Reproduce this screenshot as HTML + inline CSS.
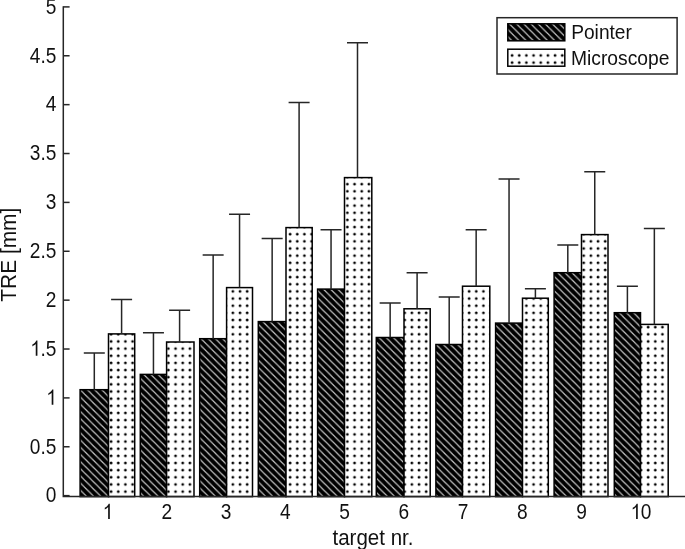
<!DOCTYPE html><html><head><meta charset="utf-8"><style>
html,body{margin:0;padding:0;background:#fff;width:685px;height:549px;overflow:hidden}
svg{display:block}text{font-family:"Liberation Sans",sans-serif;fill:#111}svg{will-change:transform}
</style></head><body>
<svg width="685" height="549" viewBox="0 0 685 549">
<defs>
<pattern id="dots" patternUnits="userSpaceOnUse" x="0" y="0" width="7.1605" height="7.15"><rect width="7.1605" height="7.15" fill="#fff"/><circle cx="3.7" cy="5.35" r="1.4" fill="#000"/></pattern>
<pattern id="hatch" patternUnits="userSpaceOnUse" x="0" y="0" width="7.1627" height="7.1627"><rect width="7.1627" height="7.1627" fill="#000"/><path d="M-2.0000 -7.6127 L9.1627 3.5500 M-2.0000 -0.4500 L9.1627 10.7127 M-2.0000 6.7127 L9.1627 17.8754" stroke="#c4c4c4" stroke-width="1.15" fill="none"/></pattern>
</defs>
<rect x="80.1" y="389.7" width="28.4" height="106.9" fill="url(#hatch)" stroke="#000" stroke-width="1.5"/>
<rect x="108.5" y="333.9" width="26.2" height="162.7" fill="url(#dots)" stroke="#000" stroke-width="1.5"/>
<rect x="140.3" y="374.4" width="26.3" height="122.2" fill="url(#hatch)" stroke="#000" stroke-width="1.5"/>
<rect x="166.6" y="342" width="27.4" height="154.6" fill="url(#dots)" stroke="#000" stroke-width="1.5"/>
<rect x="199.7" y="338.7" width="26.9" height="157.9" fill="url(#hatch)" stroke="#000" stroke-width="1.5"/>
<rect x="226.6" y="287.6" width="25.9" height="209" fill="url(#dots)" stroke="#000" stroke-width="1.5"/>
<rect x="258.3" y="321.6" width="27.7" height="175" fill="url(#hatch)" stroke="#000" stroke-width="1.5"/>
<rect x="286" y="227.6" width="26.2" height="269" fill="url(#dots)" stroke="#000" stroke-width="1.5"/>
<rect x="317.6" y="289.1" width="26.9" height="207.5" fill="url(#hatch)" stroke="#000" stroke-width="1.5"/>
<rect x="344.5" y="177.6" width="27.3" height="319" fill="url(#dots)" stroke="#000" stroke-width="1.5"/>
<rect x="376.3" y="337.5" width="27.7" height="159.1" fill="url(#hatch)" stroke="#000" stroke-width="1.5"/>
<rect x="404" y="308.8" width="26.2" height="187.8" fill="url(#dots)" stroke="#000" stroke-width="1.5"/>
<rect x="435.9" y="344.5" width="26.6" height="152.1" fill="url(#hatch)" stroke="#000" stroke-width="1.5"/>
<rect x="462.5" y="286.2" width="27.3" height="210.4" fill="url(#dots)" stroke="#000" stroke-width="1.5"/>
<rect x="495.6" y="323.1" width="26.9" height="173.5" fill="url(#hatch)" stroke="#000" stroke-width="1.5"/>
<rect x="522.5" y="298.2" width="25.8" height="198.4" fill="url(#dots)" stroke="#000" stroke-width="1.5"/>
<rect x="554.1" y="272.7" width="27.4" height="223.9" fill="url(#hatch)" stroke="#000" stroke-width="1.5"/>
<rect x="581.5" y="234.6" width="26.5" height="262" fill="url(#dots)" stroke="#000" stroke-width="1.5"/>
<rect x="614.3" y="312.7" width="26.2" height="183.9" fill="url(#hatch)" stroke="#000" stroke-width="1.5"/>
<rect x="640.5" y="324.4" width="27.7" height="172.2" fill="url(#dots)" stroke="#000" stroke-width="1.5"/>
<path d="M94.3 389.7 V352.9 M83.8 352.9 H104.8" stroke="#262626" stroke-width="1.5" fill="none"/>
<path d="M121.6 333.9 V299.6 M111.1 299.6 H132.1" stroke="#262626" stroke-width="1.5" fill="none"/>
<path d="M153.45 374.4 V332.7 M142.95 332.7 H163.95" stroke="#262626" stroke-width="1.5" fill="none"/>
<path d="M179.6 342 V310.2 M169.1 310.2 H190.1" stroke="#262626" stroke-width="1.5" fill="none"/>
<path d="M213.15 338.7 V255.1 M202.65 255.1 H223.65" stroke="#262626" stroke-width="1.5" fill="none"/>
<path d="M239.55 287.6 V214.3 M229.05 214.3 H250.05" stroke="#262626" stroke-width="1.5" fill="none"/>
<path d="M272.15 321.6 V238.4 M261.65 238.4 H282.65" stroke="#262626" stroke-width="1.5" fill="none"/>
<path d="M299.1 227.6 V102.4 M288.6 102.4 H309.6" stroke="#262626" stroke-width="1.5" fill="none"/>
<path d="M331.05 289.1 V229.7 M320.55 229.7 H341.55" stroke="#262626" stroke-width="1.5" fill="none"/>
<path d="M357.5 177.6 V42.8 M347 42.8 H368" stroke="#262626" stroke-width="1.5" fill="none"/>
<path d="M390.15 337.5 V303 M379.65 303 H400.65" stroke="#262626" stroke-width="1.5" fill="none"/>
<path d="M417.1 308.8 V272.7 M406.6 272.7 H427.6" stroke="#262626" stroke-width="1.5" fill="none"/>
<path d="M449.2 344.5 V297 M438.7 297 H459.7" stroke="#262626" stroke-width="1.5" fill="none"/>
<path d="M476.15 286.2 V229.7 M465.65 229.7 H486.65" stroke="#262626" stroke-width="1.5" fill="none"/>
<path d="M509.05 323.1 V178.9 M498.55 178.9 H519.55" stroke="#262626" stroke-width="1.5" fill="none"/>
<path d="M535.4 298.2 V288.8 M524.9 288.8 H545.9" stroke="#262626" stroke-width="1.5" fill="none"/>
<path d="M567.8 272.7 V245.1 M557.3 245.1 H578.3" stroke="#262626" stroke-width="1.5" fill="none"/>
<path d="M594.75 234.6 V171.8 M584.25 171.8 H605.25" stroke="#262626" stroke-width="1.5" fill="none"/>
<path d="M627.4 312.7 V286.3 M616.9 286.3 H637.9" stroke="#262626" stroke-width="1.5" fill="none"/>
<path d="M654.35 324.4 V228.4 M643.85 228.4 H664.85" stroke="#262626" stroke-width="1.5" fill="none"/>
<path d="M63.3 6.2 V496.6 H685" stroke="#262626" stroke-width="1.5" fill="none"/>
<path d="M63.3 495.65 H69.6" stroke="#262626" stroke-width="1.5" fill="none"/>
<text transform="translate(45.77 502.45) scale(0.885 1)" font-size="21.6">0</text>
<path d="M63.3 446.77 H69.6" stroke="#262626" stroke-width="1.5" fill="none"/>
<text transform="translate(29.83 453.57) scale(0.885 1)" font-size="21.6">0.5</text>
<path d="M63.3 397.9 H69.6" stroke="#262626" stroke-width="1.5" fill="none"/>
<path transform="translate(45.77 404.70) scale(0.009334 -0.010547)" d="M813 0H633V1130Q568 1068 462 1006Q356 944 273 895V1069Q425 1140 539 1241Q653 1342 700 1445H813Z" fill="#111"/>
<path d="M63.3 349.02 H69.6" stroke="#262626" stroke-width="1.5" fill="none"/>
<path transform="translate(29.83 355.82) scale(0.009334 -0.010547)" d="M813 0H633V1130Q568 1068 462 1006Q356 944 273 895V1069Q425 1140 539 1241Q653 1342 700 1445H813Z" fill="#111"/>
<text transform="translate(40.46 355.82) scale(0.885 1)" font-size="21.6">.5</text>
<path d="M63.3 300.15 H69.6" stroke="#262626" stroke-width="1.5" fill="none"/>
<text transform="translate(45.77 306.95) scale(0.885 1)" font-size="21.6">2</text>
<path d="M63.3 251.27 H69.6" stroke="#262626" stroke-width="1.5" fill="none"/>
<text transform="translate(29.83 258.07) scale(0.885 1)" font-size="21.6">2.5</text>
<path d="M63.3 202.4 H69.6" stroke="#262626" stroke-width="1.5" fill="none"/>
<text transform="translate(45.77 209.20) scale(0.885 1)" font-size="21.6">3</text>
<path d="M63.3 153.52 H69.6" stroke="#262626" stroke-width="1.5" fill="none"/>
<text transform="translate(29.83 160.32) scale(0.885 1)" font-size="21.6">3.5</text>
<path d="M63.3 104.65 H69.6" stroke="#262626" stroke-width="1.5" fill="none"/>
<text transform="translate(45.77 111.45) scale(0.885 1)" font-size="21.6">4</text>
<path d="M63.3 55.77 H69.6" stroke="#262626" stroke-width="1.5" fill="none"/>
<text transform="translate(29.83 62.57) scale(0.885 1)" font-size="21.6">4.5</text>
<path d="M63.3 6.9 H69.6" stroke="#262626" stroke-width="1.5" fill="none"/>
<text transform="translate(45.77 13.70) scale(0.885 1)" font-size="21.6">5</text>
<path transform="translate(102.23 519.00) scale(0.009334 -0.010547)" d="M813 0H633V1130Q568 1068 462 1006Q356 944 273 895V1069Q425 1140 539 1241Q653 1342 700 1445H813Z" fill="#111"/>
<text transform="translate(161.48 519.00) scale(0.885 1)" font-size="21.6">2</text>
<text transform="translate(220.73 519.00) scale(0.885 1)" font-size="21.6">3</text>
<text transform="translate(279.98 519.00) scale(0.885 1)" font-size="21.6">4</text>
<text transform="translate(339.23 519.00) scale(0.885 1)" font-size="21.6">5</text>
<text transform="translate(398.48 519.00) scale(0.885 1)" font-size="21.6">6</text>
<text transform="translate(457.73 519.00) scale(0.885 1)" font-size="21.6">7</text>
<text transform="translate(516.98 519.00) scale(0.885 1)" font-size="21.6">8</text>
<text transform="translate(576.23 519.00) scale(0.885 1)" font-size="21.6">9</text>
<path transform="translate(630.17 519.00) scale(0.009334 -0.010547)" d="M813 0H633V1130Q568 1068 462 1006Q356 944 273 895V1069Q425 1140 539 1241Q653 1342 700 1445H813Z" fill="#111"/>
<text transform="translate(640.80 519.00) scale(0.885 1)" font-size="21.6">0</text>
<text transform="translate(373 544.8) scale(0.955 1)" font-size="21.5" text-anchor="middle">target nr.</text>
<text transform="translate(15.7 254.7) rotate(-90) scale(0.95 1)" font-size="22.0" text-anchor="middle">TRE [mm]</text>
<rect x="497" y="17.7" width="180.1" height="56.3" fill="#fff" stroke="#262626" stroke-width="1.5"/>
<rect x="507.8" y="23.8" width="57" height="17" fill="url(#hatch)" stroke="#000" stroke-width="1.5"/>
<rect x="507.8" y="49.2" width="57" height="17" fill="url(#dots)" stroke="#000" stroke-width="1.5"/>
<text transform="translate(571.2 39.2) scale(0.935 1)" font-size="20.5">Pointer</text>
<text transform="translate(571 65.1) scale(0.94 1)" font-size="20.5">Microscope</text>
</svg></body></html>
